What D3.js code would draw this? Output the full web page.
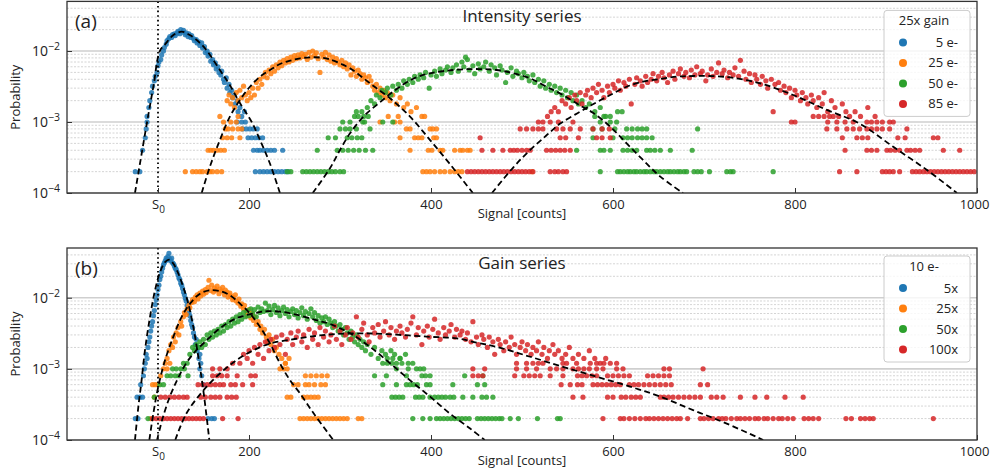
<!DOCTYPE html>
<html><head><meta charset="utf-8">
<script src="https://cdn.jsdelivr.net/npm/d3@7"></script>
<style>body{margin:0;background:#fff}svg{display:block}text{font-family:"Open Sans",sans-serif;fill:#222}</style>
</head><body><svg id="c" width="990" height="476"></svg>
<script>
// ---------- axis / label data ----------
const xTickValues = [100, 200, 400, 600, 800, 1000];
const xTickLabels = ["S", "200", "400", "600", "800", "1000"];
const yTickValues = [1e-4, 1e-3, 1e-2];
const yTickExps = ["\u22124", "\u22123", "\u22122"];
const s0 = 100;
const colors = ["#1f77b4", "#ff7f0e", "#2ca02c", "#d62728"];
const legendATitle = "25x gain";
const legendALabels = ["5 e-", "25 e-", "50 e-", "85 e-"];
const legendBTitle = "10 e-";
const legendBLabels = ["5x", "25x", "50x", "100x"];

// ---------- panel (a): intensity series ----------
const aBluePts = [[88,1.2e-3],[90,1.6e-3],[91,2.0e-3],[93,2.6e-3],[94,3.2e-3],[96,3.8e-3],[97,4.4e-3],[99,5.0e-3],[100,6.2e-3],[101,7.0e-3],[103,7.6e-3],[104,8.8e-3],[106,1.0e-2],[107,1.12e-2],[109,1.25e-2],[110,1.4e-2],[112,1.5e-2],[113,1.6e-2],[115,1.55e-2],[116,1.7e-2],[118,1.75e-2],[119,1.65e-2],[121,1.8e-2],[122,1.9e-2],[124,1.75e-2],[125,2.0e-2],[127,1.85e-2],[128,1.95e-2],[130,1.7e-2],[131,1.8e-2],[133,1.6e-2],[134,1.75e-2],[136,1.55e-2],[137,1.65e-2],[139,1.5e-2],[140,1.4e-2],[142,1.45e-2],[143,1.3e-2],[145,1.35e-2],[146,1.2e-2],[148,1.3e-2],[149,1.1e-2],[151,1.15e-2],[152,9.5e-3],[154,1.0e-2],[155,8.5e-3],[157,9.0e-3],[158,7.2e-3],[160,7.6e-3],[161,6.4e-3],[163,6.8e-3],[164,5.6e-3],[166,6.0e-3],[167,5.0e-3],[169,4.6e-3],[170,5.2e-3],[172,4.0e-3],[173,3.6e-3],[175,4.2e-3],[176,3.0e-3],[178,3.4e-3],[179,2.6e-3],[181,2.8e-3],[182,2.2e-3],[184,2.4e-3],[185,1.8e-3],[187,2.0e-3],[188,1.4e-3],[190,1.6e-3],[192,1.2e-3],[195,1.4e-3]];
const aBlueRows = [[2e-4,[75,80,207,212,216,220,224,228,232,236,240,243]],[4e-4,[83,205,209,212,216,220,224,228,237]],[6e-4,[86,199,203,207,211,215]],[8e-4,[87,193,197,201,205,209]],[1e-3,[88,187,192,196]]];
const aBlueFit = [[74.7,1e-4],[88,1e-3],[95,3.2e-3],[102,1e-2],[108,1.25e-2],[117,1.68e-2],[126,1.87e-2],[135,1.68e-2],[146,1.3e-2],[154,1e-2],[168,5.4e-3],[179,3.3e-3],[190,1.85e-3],[203,1e-3],[212,5.6e-4],[223,2.6e-4],[234,1e-4]];

const aOrangePts = [[176,2.0e-3],[178,2.4e-3],[180,1.8e-3],[182,2.2e-3],[184,1.6e-3],[186,2.6e-3],[188,2.0e-3],[190,2.8e-3],[192,2.2e-3],[194,3.2e-3],[196,2.4e-3],[198,2.0e-3],[200,2.6e-3],[202,2.2e-3],[204,3.0e-3],[206,2.4e-3],[208,3.6e-3],[210,3.0e-3],[212,4.0e-3],[214,3.4e-3],[216,4.4e-3],[218,5.0e-3],[220,4.2e-3],[222,5.4e-3],[224,4.8e-3],[226,6.0e-3],[228,5.2e-3],[230,6.4e-3],[232,5.8e-3],[234,7.0e-3],[236,6.2e-3],[238,7.4e-3],[240,6.8e-3],[242,7.8e-3],[244,7.0e-3],[246,8.2e-3],[248,7.4e-3],[250,8.6e-3],[252,7.8e-3],[254,8.8e-3],[256,8.0e-3],[258,9.2e-3],[260,8.4e-3],[262,9.0e-3],[264,7.6e-3],[266,9.6e-3],[268,8.2e-3],[270,1.0e-2],[272,8.6e-3],[274,9.4e-3],[276,7.8e-3],[278,5.0e-3],[280,9.0e-3],[282,8.2e-3],[284,9.6e-3],[286,7.6e-3],[288,8.8e-3],[290,7.2e-3],[292,8.2e-3],[294,6.8e-3],[296,7.8e-3],[298,7.0e-3],[300,6.4e-3],[302,7.4e-3],[304,6.0e-3],[306,6.8e-3],[308,5.6e-3],[310,6.4e-3],[312,4.6e-3],[314,5.8e-3],[316,5.2e-3],[318,4.4e-3],[320,5.4e-3],[322,4.8e-3],[324,4.0e-3],[326,4.6e-3],[328,4.2e-3],[330,3.6e-3],[332,4.4e-3],[334,3.8e-3],[336,3.2e-3],[338,2.8e-3],[340,3.4e-3],[342,2.6e-3],[344,3.0e-3],[346,2.4e-3],[348,2.8e-3],[350,2.2e-3],[352,2.6e-3],[355,2.0e-3],[358,2.4e-3],[362,1.8e-3],[366,2.2e-3],[370,1.6e-3],[374,1.8e-3],[378,1.4e-3],[384,1.6e-3],[390,1.2e-3]];
const aOrangeRows = [[2e-4,[130,138,142,146,149,154,157,160,165,170,391,395,399,404,410,415,421,426,430,434,511]],[4e-4,[155,158,161,165,169,173,377,397,401,410,413,426,432,435,440,443]],[6e-4,[171,176,181,190,366,382,386,390,403,406]],[8e-4,[174,177,182,188,192,373,377,399,402,406]],[1e-3,[172,180,186,344,360,366]],[1.2e-3,[168,188,353,364,393]]];
const aOrangeFit = [[148,1e-4],[157,2.34e-4],[168,5.57e-4],[179,1.19e-3],[190,2.04e-3],[201,3.14e-3],[212,4.35e-3],[223,5.4e-3],[234,6.56e-3],[245,7.3e-3],[256,7.89e-3],[267,8.15e-3],[278,8.1e-3],[289,7.6e-3],[311,5.7e-3],[333,3.5e-3],[355,2.16e-3],[377,1.19e-3],[399,5.57e-4],[420,2.63e-4],[446,1e-4]];

const aGreenPts = [[330,1.6e-3],[334,2.0e-3],[338,1.8e-3],[340,2.4e-3],[344,2.2e-3],[346,2.8e-3],[350,2.6e-3],[352,3.0e-3],[356,2.4e-3],[358,3.2e-3],[362,2.8e-3],[364,3.4e-3],[368,3.0e-3],[370,3.8e-3],[374,3.4e-3],[376,4.0e-3],[380,3.6e-3],[382,4.4e-3],[386,4.0e-3],[388,4.6e-3],[392,4.2e-3],[394,5.0e-3],[398,3.0e-3],[400,4.6e-3],[404,5.2e-3],[406,4.4e-3],[410,5.6e-3],[412,4.8e-3],[416,5.4e-3],[418,6.0e-3],[422,5.0e-3],[424,5.8e-3],[428,6.4e-3],[430,5.2e-3],[434,7.0e-3],[436,6.0e-3],[438,8.2e-3],[440,7.6e-3],[442,5.4e-3],[446,6.2e-3],[448,4.8e-3],[452,6.6e-3],[454,5.6e-3],[458,6.0e-3],[460,7.0e-3],[464,5.2e-3],[466,6.4e-3],[470,5.8e-3],[472,4.6e-3],[476,6.2e-3],[478,5.4e-3],[482,3.6e-3],[484,5.0e-3],[488,5.8e-3],[490,4.4e-3],[494,5.2e-3],[496,4.8e-3],[500,4.2e-3],[502,5.0e-3],[506,4.4e-3],[508,3.8e-3],[512,4.6e-3],[514,3.6e-3],[518,4.0e-3],[520,3.2e-3],[524,3.8e-3],[526,3.0e-3],[530,3.4e-3],[532,2.8e-3],[536,3.2e-3],[538,2.6e-3],[542,3.0e-3],[544,2.4e-3],[548,2.8e-3],[550,2.2e-3],[554,2.6e-3],[556,2.0e-3],[560,2.4e-3],[562,1.8e-3],[566,2.0e-3],[570,1.6e-3],[574,1.8e-3],[580,1.4e-3],[586,1.6e-3],[592,1.2e-3]];
const aGreenRows = [[2e-4,[242,246,259,263,267,271,275,279,283,287,291,295,300,304,586,605,608,612,616,619,623,626,630,634,637,641,645,648,652,656,660,663,667,671,674,678,681,689,693,697,706,725,729,732,776]],[4e-4,[275,297,303,309,315,321,328,336,560,586,590,597,611,616,621,626,637,641,646,652,663,687]],[6e-4,[287,295,308,313,319,324,578,600,611,616,621,627,632,637,643]],[8e-4,[300,306,311,318,333,578,588,602,615,621,627,632,637,693]],[1e-3,[303,311,325,327,347,358,586,597,604]],[1.2e-3,[316,320,326,331,580,590,597]],[1.4e-3,[318,324,605,610]]];
const aGreenFit = [[270,1e-4],[289,2.23e-4],[300,4.04e-4],[311,6.93e-4],[326,1.2e-3],[344,1.9e-3],[362,2.9e-3],[381,4.1e-3],[399,4.85e-3],[417,5.28e-3],[435,5.52e-3],[454,5.57e-3],[472,5.4e-3],[491,4.85e-3],[509,4.12e-3],[527,3.14e-3],[545,2.4e-3],[564,1.7e-3],[578,1.35e-3],[597,8.6e-4],[615,5.0e-4],[633,2.92e-4],[652,1.7e-4],[677,1e-4]];

const aRedPts = [[528,1.2e-3],[532,1.4e-3],[536,1.6e-3],[540,1.4e-3],[544,2.0e-3],[548,1.8e-3],[552,2.2e-3],[554,1.6e-3],[558,2.4e-3],[560,2.0e-3],[564,2.6e-3],[566,1.8e-3],[570,2.4e-3],[572,2.8e-3],[576,2.2e-3],[578,3.0e-3],[582,2.6e-3],[584,3.4e-3],[588,2.8e-3],[590,2.2e-3],[594,3.2e-3],[596,2.6e-3],[600,3.4e-3],[602,3.0e-3],[606,3.8e-3],[608,2.8e-3],[612,3.6e-3],[614,3.2e-3],[618,4.0e-3],[620,1.8e-3],[624,3.4e-3],[626,4.2e-3],[630,3.8e-3],[632,3.2e-3],[636,4.4e-3],[638,3.6e-3],[642,4.0e-3],[644,4.8e-3],[648,3.8e-3],[650,4.4e-3],[654,5.0e-3],[656,4.2e-3],[660,3.6e-3],[662,4.6e-3],[666,5.2e-3],[668,4.0e-3],[672,4.8e-3],[674,5.6e-3],[678,4.4e-3],[680,5.0e-3],[684,4.2e-3],[686,5.4e-3],[690,4.6e-3],[692,6.0e-3],[696,4.8e-3],[698,5.2e-3],[702,3.8e-3],[704,4.6e-3],[708,5.6e-3],[710,4.4e-3],[714,5.0e-3],[716,6.8e-3],[720,4.8e-3],[722,5.4e-3],[726,4.2e-3],[728,5.0e-3],[732,4.6e-3],[734,5.8e-3],[738,4.4e-3],[740,7.4e-3],[744,5.2e-3],[746,4.0e-3],[750,4.8e-3],[752,3.6e-3],[756,4.6e-3],[758,4.0e-3],[762,3.4e-3],[764,4.4e-3],[768,3.8e-3],[770,3.0e-3],[774,4.0e-3],[776,1.4e-3],[778,3.4e-3],[782,3.6e-3],[784,2.8e-3],[788,3.2e-3],[790,2.6e-3],[794,3.0e-3],[796,2.2e-3],[800,2.8e-3],[802,2.4e-3],[806,2.0e-3],[808,2.6e-3],[812,2.2e-3],[814,1.8e-3],[818,2.4e-3],[820,2.0e-3],[824,1.6e-3],[826,2.2e-3],[830,1.8e-3],[832,2.6e-3],[836,1.4e-3],[840,2.0e-3],[844,1.6e-3],[848,1.2e-3],[852,1.8e-3],[856,1.4e-3],[860,1.2e-3],[866,1.4e-3],[872,1.2e-3],[880,1.6e-3],[888,1.2e-3]];
const aRedRows = [[2e-4,[440,444,448,452,456,460,464,468,472,476,480,484,488,492,496,500,504,508,512,531,536,540,545,549,849,868,896,900,904,908,915,929,933,937,941,945,949,953,957,961,965,969,973,977,981,985,989,993,997]],[4e-4,[456,468,479,487,491,495,500,505,509,527,532,537,542,547,553,855,879,884,890,901,905,910,915,923,927,932,937,963,981]],[6e-4,[454,542,548,562,582,588,597,852,868,874,880,913,921,952,957]],[8e-4,[498,505,512,518,523,538,545,553,564,578,588,596,835,846,857,864,871,879,884,890,896,904,923]],[1e-3,[518,523,531,540,556,796,800,836,846,855,864,879,884,890,896,904,908]],[1.2e-3,[820,826,832,838,842]]];
const aRedFit = [[467,1e-4],[491,2.34e-4],[509,4.04e-4],[527,6.5e-4],[542,9.5e-4],[564,1.4e-3],[578,1.78e-3],[597,2.4e-3],[615,3.14e-3],[633,3.7e-3],[652,4.05e-3],[670,4.35e-3],[688,4.45e-3],[725,4.3e-3],[762,3.5e-3],[798,2.4e-3],[835,1.48e-3],[871,9.5e-4],[908,4.47e-4],[945,2.11e-4],[978,1e-4]];

// ---------- panel (b): gain series ----------
const bBluePts = [[86,1.2e-3],[87,1.6e-3],[88,1.4e-3],[89,2.0e-3],[90,2.4e-3],[91,2.8e-3],[92,3.4e-3],[93,4.0e-3],[94,4.6e-3],[95,5.6e-3],[96,6.6e-3],[97,8.0e-3],[98,9.4e-3],[99,1.1e-2],[100,1.3e-2],[101,1.5e-2],[102,1.8e-2],[103,2.0e-2],[104,2.3e-2],[105,2.6e-2],[106,2.9e-2],[107,3.1e-2],[108,3.3e-2],[109,3.6e-2],[110,3.4e-2],[111,3.8e-2],[112,4.2e-2],[113,3.5e-2],[114,3.3e-2],[115,3.6e-2],[116,3.1e-2],[117,3.0e-2],[118,2.8e-2],[119,2.6e-2],[120,2.5e-2],[121,2.3e-2],[122,2.1e-2],[123,1.9e-2],[124,1.8e-2],[125,1.6e-2],[126,1.5e-2],[127,1.35e-2],[128,1.2e-2],[129,1.1e-2],[130,9.8e-3],[131,9.0e-3],[132,7.8e-3],[133,7.0e-3],[134,6.2e-3],[135,5.6e-3],[136,4.8e-3],[137,4.2e-3],[138,3.8e-3],[139,3.2e-3],[140,2.8e-3],[141,2.2e-3],[142,2.6e-3],[143,1.8e-3],[144,2.0e-3],[145,1.4e-3],[146,1.6e-3],[147,1.2e-3]];
const bBlueRows = [[2e-4,[75,78,155,159,162]],[4e-4,[77,80,83]],[6e-4,[81,150]],[8e-4,[84,148]],[1e-3,[85,146]]];
const bBlueFit = [[74.7,1e-4],[78.4,2.93e-4],[82,6.95e-4],[85.7,1.83e-3],[91.2,5.37e-3],[96.7,1.27e-2],[102.2,2.29e-2],[107.7,3.16e-2],[112.4,3.42e-2],[116.8,3.02e-2],[122.3,2.19e-2],[127.8,1.41e-2],[133.3,8.26e-3],[138.8,3.89e-3],[144.3,1.48e-3],[149.8,5.0e-4],[156.4,1e-4]];

const bOrangePts = [[110,1.4e-3],[112,1.8e-3],[113,1.2e-3],[114,2.2e-3],[116,2.0e-3],[117,2.8e-3],[119,2.4e-3],[120,3.2e-3],[122,3.8e-3],[123,3.0e-3],[125,4.6e-3],[126,4.0e-3],[128,5.4e-3],[129,6.2e-3],[131,5.8e-3],[132,7.0e-3],[134,7.8e-3],[135,7.2e-3],[137,8.6e-3],[138,9.4e-3],[140,8.8e-3],[141,1.02e-2],[143,1.1e-2],[144,9.6e-3],[146,1.16e-2],[147,1.06e-2],[149,1.24e-2],[150,1.12e-2],[152,1.3e-2],[153,1.18e-2],[155,1.4e-2],[156,1.76e-2],[158,1.26e-2],[159,1.5e-2],[161,1.2e-2],[162,1.36e-2],[164,1.28e-2],[165,1.46e-2],[167,1.14e-2],[168,1.32e-2],[170,1.24e-2],[171,1.4e-2],[173,1.1e-2],[174,1.28e-2],[176,1.2e-2],[177,1.02e-2],[179,1.16e-2],[180,1.06e-2],[182,9.4e-3],[183,1.0e-2],[185,1.1e-2],[186,9.0e-3],[188,8.4e-3],[189,9.6e-3],[191,7.6e-3],[192,8.2e-3],[194,7.0e-3],[195,7.8e-3],[197,6.4e-3],[198,5.6e-3],[200,6.8e-3],[202,5.2e-3],[203,6.0e-3],[205,4.8e-3],[206,5.4e-3],[208,4.2e-3],[210,4.6e-3],[212,3.6e-3],[213,4.0e-3],[215,3.2e-3],[217,3.6e-3],[219,2.8e-3],[220,2.4e-3],[222,3.0e-3],[224,2.2e-3],[226,2.6e-3],[228,1.8e-3],[230,2.0e-3],[233,1.6e-3],[236,1.4e-3],[240,1.2e-3],[244,1.4e-3]];
const bOrangeRows = [[2e-4,[92,256,260,264,268,272,276,280,284,288,292,296,300,304,308,320,324]],[4e-4,[96,242,246,260,264,268,272,276]],[6e-4,[94,97,100,249,254,262,266,272,279,284]],[8e-4,[103,262,268,274,280,286]],[1e-3,[106,110,234,238,242]],[1.2e-3,[108,240]]];
const bOrangeFit = [[90.5,1e-4],[94.9,2.37e-4],[100.3,5.62e-4],[107.7,1.32e-3],[116.8,2.82e-3],[126,5.37e-3],[135.2,8.26e-3],[146.2,1.14e-2],[157.1,1.27e-2],[168.1,1.24e-2],[179.1,1.08e-2],[190.1,8.26e-3],[201.1,5.98e-3],[212.1,3.89e-3],[223.1,2.27e-3],[234.1,1.19e-3],[245,6.95e-4],[256,4.52e-4],[271,2.37e-4],[292.6,1e-4]];

const bGreenPts = [[135,1.6e-3],[138,2.0e-3],[140,1.8e-3],[142,2.2e-3],[144,2.0e-3],[146,2.4e-3],[148,2.0e-3],[150,2.6e-3],[152,2.2e-3],[154,3.0e-3],[156,2.6e-3],[158,3.2e-3],[160,2.8e-3],[162,3.4e-3],[164,3.0e-3],[166,3.6e-3],[168,3.2e-3],[170,4.0e-3],[172,3.4e-3],[174,4.2e-3],[176,3.8e-3],[178,4.6e-3],[180,4.0e-3],[182,5.0e-3],[184,4.4e-3],[186,5.4e-3],[188,4.6e-3],[190,5.8e-3],[192,5.0e-3],[194,6.2e-3],[196,5.4e-3],[198,6.6e-3],[200,5.6e-3],[202,7.0e-3],[204,6.0e-3],[206,6.8e-3],[208,5.4e-3],[210,7.4e-3],[212,6.2e-3],[214,7.0e-3],[216,6.4e-3],[218,8.4e-3],[220,6.6e-3],[222,7.6e-3],[224,5.8e-3],[226,6.8e-3],[228,7.8e-3],[230,6.2e-3],[232,7.2e-3],[234,5.6e-3],[236,6.6e-3],[238,7.4e-3],[240,6.0e-3],[242,6.8e-3],[244,5.4e-3],[246,6.4e-3],[248,7.0e-3],[250,5.8e-3],[252,6.6e-3],[254,5.2e-3],[256,6.2e-3],[258,7.2e-3],[260,5.6e-3],[262,6.4e-3],[264,5.0e-3],[266,6.0e-3],[268,7.0e-3],[270,5.4e-3],[272,6.2e-3],[274,4.8e-3],[276,5.6e-3],[278,4.4e-3],[280,5.2e-3],[282,4.6e-3],[284,5.4e-3],[286,4.2e-3],[288,5.0e-3],[290,4.4e-3],[292,3.8e-3],[294,4.6e-3],[296,4.0e-3],[298,3.4e-3],[300,4.2e-3],[302,3.6e-3],[304,3.0e-3],[306,3.8e-3],[308,3.2e-3],[310,2.6e-3],[312,3.4e-3],[314,2.8e-3],[316,2.4e-3],[318,3.0e-3],[320,2.2e-3],[322,2.6e-3],[324,2.0e-3],[326,2.4e-3],[328,1.8e-3],[330,2.2e-3],[334,1.6e-3],[338,2.0e-3],[342,1.4e-3],[346,1.8e-3],[350,1.6e-3],[356,1.8e-3],[360,1.6e-3],[366,1.4e-3],[372,1.6e-3]];
const bGreenRows = [[2e-4,[89,380,391,399,406,410,414,418,422,426,430,434,438,442,451,455,459,463,467,471,475,478,487,496,517,539,542]],[4e-4,[96,357,361,365,369,383,387,391,399,404,408,412,416,421,425,435,446,456,461,468]],[6e-4,[102,106,347,362,373,377,381,385,395,399,424,451,459]],[8e-4,[110,114,119,123,133,338,351,373,390,394,399,437,457]],[1e-3,[116,120,125,129,362,375,384,388,392]],[1.2e-3,[128,132,347,352,357,362,368,375,380]],[1.4e-3,[352,358,366]]];
const bGreenFit = [[99,1e-4],[105,2.0e-4],[113,4.07e-4],[122,7.4e-4],[131,1.2e-3],[140,1.7e-3],[150,2.29e-3],[168,3.72e-3],[186,5.13e-3],[205,6.03e-3],[220,6.46e-3],[237,6.31e-3],[256,5.62e-3],[275,4.79e-3],[289,4.27e-3],[311,3.16e-3],[333,2.04e-3],[355,1.2e-3],[377,6.9e-4],[399,4.07e-4],[421,2.34e-4],[443,1.45e-4],[459,1e-4]];

const bRedPts = [[190,1.2e-3],[194,1.6e-3],[198,1.4e-3],[200,1.8e-3],[204,1.2e-3],[206,2.0e-3],[210,1.6e-3],[212,2.2e-3],[216,1.4e-3],[218,2.4e-3],[222,1.8e-3],[224,2.6e-3],[228,2.0e-3],[230,2.8e-3],[234,2.2e-3],[236,3.0e-3],[240,1.6e-3],[242,2.6e-3],[246,3.2e-3],[248,2.2e-3],[252,2.8e-3],[254,3.4e-3],[258,2.4e-3],[260,3.0e-3],[264,2.0e-3],[266,3.6e-3],[270,2.6e-3],[272,3.2e-3],[276,2.2e-3],[278,3.8e-3],[282,2.8e-3],[284,3.4e-3],[288,2.4e-3],[290,3.0e-3],[294,4.0e-3],[296,2.6e-3],[300,3.4e-3],[302,2.2e-3],[306,3.0e-3],[308,3.8e-3],[312,2.6e-3],[314,3.2e-3],[318,5.4e-3],[320,2.8e-3],[324,3.6e-3],[326,4.4e-3],[330,3.0e-3],[332,2.4e-3],[336,3.8e-3],[338,3.2e-3],[342,4.2e-3],[344,2.8e-3],[348,3.4e-3],[350,4.6e-3],[354,3.0e-3],[356,3.8e-3],[360,2.6e-3],[362,3.4e-3],[366,4.0e-3],[368,3.2e-3],[372,2.8e-3],[374,3.6e-3],[378,4.4e-3],[380,5.4e-3],[384,3.0e-3],[386,3.8e-3],[390,2.2e-3],[392,3.4e-3],[396,4.0e-3],[398,2.8e-3],[402,3.6e-3],[404,5.0e-3],[408,3.2e-3],[410,2.6e-3],[414,3.8e-3],[416,3.0e-3],[420,3.4e-3],[422,4.2e-3],[426,2.8e-3],[428,3.6e-3],[432,3.0e-3],[434,3.4e-3],[438,2.6e-3],[440,3.2e-3],[444,2.4e-3],[446,4.6e-3],[450,2.8e-3],[452,2.2e-3],[456,3.0e-3],[458,2.6e-3],[462,2.0e-3],[464,2.8e-3],[468,2.4e-3],[470,1.6e-3],[474,2.6e-3],[476,2.2e-3],[480,1.8e-3],[482,2.4e-3],[486,2.0e-3],[488,2.8e-3],[492,2.2e-3],[494,1.6e-3],[498,2.0e-3],[500,2.4e-3],[504,1.8e-3],[506,2.2e-3],[510,1.6e-3],[512,2.0e-3],[516,1.8e-3],[518,2.4e-3],[522,1.6e-3],[524,2.0e-3],[528,1.4e-3],[530,1.8e-3],[534,2.2e-3],[536,1.6e-3],[540,1.8e-3],[544,1.4e-3],[548,1.6e-3],[552,2.0e-3],[556,1.4e-3],[562,1.6e-3],[568,1.4e-3],[574,1.8e-3],[580,1.4e-3],[586,1.2e-3],[592,1.4e-3]];
const bRedRows = [[2e-4,[94,98,102,106,110,114,118,122,126,130,134,138,142,146,150,171,188,589,608,612,618,624,630,636,640,645,650,655,660,665,670,674,682,696,700,705,710,716,720,724,730,736,740,745,750,756,760,766,770,776,782,786,792,798,810,815,820,826,856,862,872,877,882,886,952]],[4e-4,[103,108,113,118,123,128,132,147,152,158,163,168,176,181,186,556,567,594,600,609,614,620,625,630,652,656,661,666,672,678,684,690,696,708,714,721,740,756,769,789,809]],[6e-4,[144,149,154,158,163,168,172,180,185,193,204,543,553,561,566,578,583,588,593,598,603,608,618,623,628,634,640,646,652,658,664,696,704]],[8e-4,[160,165,170,176,187,202,207,446,452,457,492,502,508,514,520,531,545,561,566,571,577,582,594,600,606,612,618,638,644,650,656,662]],[1e-3,[160,168,176,446,459,494,505,516,531,538,545,556,562,568,574,582,589,604,611,656,662,699]],[1.2e-3,[182,494,505,512,518,523,545,549,560,575,582,590,597,604]]];
const bRedFit = [[119,1e-4],[131,2.34e-4],[150,5.0e-4],[168,8.6e-4],[186,1.32e-3],[205,1.83e-3],[223,2.27e-3],[241,2.51e-3],[260,2.75e-3],[278,2.95e-3],[296,3.09e-3],[326,3.16e-3],[362,3.02e-3],[399,2.82e-3],[428,2.69e-3],[450,2.34e-3],[472,2.04e-3],[509,1.48e-3],[545,1.07e-3],[582,7.76e-4],[619,5.62e-4],[652,4.07e-4],[688,2.63e-4],[725,1.7e-4],[765,1e-4]];

// ---------- drawing ----------
const svg = d3.select("#c");
const defs = svg.append("defs");
const x = d3.scaleLinear().domain([0, 1000]).range([67, 977]);

function expand(pts, rows) {
  const out = pts.map(d => ({x: d[0], p: d[1]}));
  rows.forEach(([p, xs]) => xs.forEach(v => out.push({x: v, p: p})));
  return out;
}

function drawPanel(cfg) {
  const y = d3.scaleLog().domain([1e-4, 5e-2]).range([cfg.bottom, cfg.top]);
  const g = svg.append("g");
  const cid = "clip-" + cfg.key;
  defs.append("clipPath").attr("id", cid).append("rect")
    .attr("x", 67).attr("y", cfg.top).attr("width", 910).attr("height", cfg.bottom - cfg.top);

  const minor = [];
  [1e-4, 1e-3, 1e-2].forEach(d => { for (let k = 2; k <= 9; k++) { const v = k * d; if (v < 5e-2) minor.push(v); } });
  g.selectAll("line.mg").data(minor).join("line").attr("class", "mg")
    .attr("x1", 67).attr("x2", 977).attr("y1", d => y(d)).attr("y2", d => y(d))
    .attr("stroke", "#c9c9c9").attr("stroke-width", 0.8).attr("stroke-dasharray", "2,1.5");
  g.selectAll("line.Mg").data(yTickValues).join("line").attr("class", "Mg")
    .attr("x1", 67).attr("x2", 977).attr("y1", d => y(d)).attr("y2", d => y(d))
    .attr("stroke", "#cfcfcf").attr("stroke-width", 1.6);

  const pg = g.append("g").attr("clip-path", `url(#${cid})`);
  cfg.series.forEach(s => {
    pg.append("g").selectAll("circle").data(expand(s.pts, s.rows)).join("circle")
      .attr("cx", d => x(d.x)).attr("cy", d => y(d.p)).attr("r", 2.6)
      .attr("fill", s.color).attr("fill-opacity", 0.85);
  });
  const line = d3.line().x(d => x(d[0])).y(d => y(d[1])).curve(d3.curveCatmullRom.alpha(0.5));
  cfg.series.forEach(s => {
    pg.append("path").attr("d", line(s.fit)).attr("fill", "none")
      .attr("stroke", "#000").attr("stroke-width", 1.8).attr("stroke-dasharray", "6,3.5");
  });
  pg.append("line").attr("x1", x(s0)).attr("x2", x(s0)).attr("y1", cfg.top).attr("y2", cfg.bottom)
    .attr("stroke", "#000").attr("stroke-width", 1.8).attr("stroke-dasharray", "1.6,3");

  // axes
  const xa = g.append("g").attr("transform", `translate(0,${cfg.bottom})`)
    .call(d3.axisBottom(x).tickValues(xTickValues).tickFormat((d, i) => xTickLabels[i]).tickSize(-5).tickPadding(7));
  xa.select(".domain").remove();
  xa.selectAll("line").attr("stroke", "#333");
  xa.selectAll("text").attr("font-size", 13).attr("fill", "#222").attr("font-family", "Open Sans");
  xa.selectAll(".tick").filter(d => d === s0).select("text")
    .append("tspan").attr("dy", 4).attr("font-size", 10).text("0");
  xa.selectAll(".tick").filter(d => d === 1000).select("text").attr("dx", -3);

  const ya = g.append("g").attr("transform", "translate(67,0)")
    .call(d3.axisLeft(y).tickValues(yTickValues).tickFormat(() => "").tickSize(-5).tickPadding(7));
  ya.select(".domain").remove();
  ya.selectAll("line").attr("stroke", "#333");
  ya.selectAll(".tick text").attr("font-size", 14).attr("fill", "#222").attr("font-family", "Open Sans")
    .each(function(d, i) {
      const t = d3.select(this);
      t.append("tspan").text("10");
      t.append("tspan").attr("dy", -6).attr("font-size", 10.5).text(yTickExps[i]);
    });

  g.append("rect").attr("x", 67).attr("y", cfg.top).attr("width", 910).attr("height", cfg.bottom - cfg.top)
    .attr("fill", "none").attr("stroke", "#333").attr("stroke-width", 1.3);

  g.append("text").attr("x", 522).attr("y", cfg.bottom + 25).attr("text-anchor", "middle")
    .attr("font-size", 13).text("Signal [counts]");
  g.append("text").attr("transform", `translate(20,${(cfg.top + cfg.bottom) / 2}) rotate(-90)`)
    .attr("text-anchor", "middle").attr("font-size", 13).text("Probability");
  g.append("text").attr("x", 522).attr("y", cfg.top + 21).attr("text-anchor", "middle")
    .attr("font-size", 17).text(cfg.title);
  g.append("text").attr("x", 75).attr("y", cfg.top + 27).attr("font-size", 19).text(cfg.tag);

  // legend
  const lg = g.append("g").attr("transform", `translate(884,${cfg.top + cfg.legendDy})`);
  lg.append("rect").attr("width", 86).attr("height", 106).attr("rx", 3)
    .attr("fill", "#fff").attr("fill-opacity", 0.8).attr("stroke", "#ccc").attr("stroke-width", 1);
  lg.append("text").attr("x", 40).attr("y", 15).attr("text-anchor", "middle").attr("font-size", 13).text(cfg.legendTitle);
  cfg.legendLabels.forEach((lab, i) => {
    const yy = 32 + i * 20.5;
    lg.append("circle").attr("cx", 19).attr("cy", yy).attr("r", 4).attr("fill", colors[i]);
    lg.append("text").attr("x", 74).attr("y", yy + 4.5).attr("text-anchor", "end").attr("font-size", 13).text(lab);
  });
}

drawPanel({key: "a", top: 1.4, bottom: 193, title: "Intensity series", tag: "(a)", legendDy: 9,
  legendTitle: legendATitle, legendLabels: legendALabels,
  series: [
    {color: colors[0], pts: aBluePts, rows: aBlueRows, fit: aBlueFit},
    {color: colors[1], pts: aOrangePts, rows: aOrangeRows, fit: aOrangeFit},
    {color: colors[2], pts: aGreenPts, rows: aGreenRows, fit: aGreenFit},
    {color: colors[3], pts: aRedPts, rows: aRedRows, fit: aRedFit}]});
drawPanel({key: "b", top: 248, bottom: 440, title: "Gain series", tag: "(b)", legendDy: 8,
  legendTitle: legendBTitle, legendLabels: legendBLabels,
  series: [
    {color: colors[0], pts: bBluePts, rows: bBlueRows, fit: bBlueFit},
    {color: colors[1], pts: bOrangePts, rows: bOrangeRows, fit: bOrangeFit},
    {color: colors[2], pts: bGreenPts, rows: bGreenRows, fit: bGreenFit},
    {color: colors[3], pts: bRedPts, rows: bRedRows, fit: bRedFit}]});
</script></body></html>
